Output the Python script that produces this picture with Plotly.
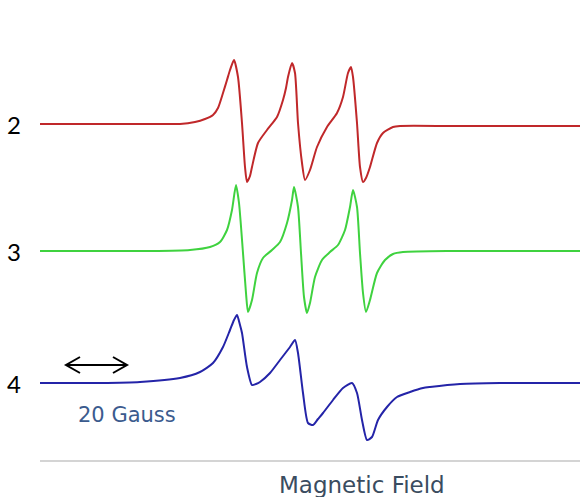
import plotly.graph_objects as go

# Field positions (arbitrary field units, left -> right) and derivative intensities
red_field = [40, 80, 120, 160, 180, 195, 205, 213, 218, 223, 227, 230, 234, 238, 242, 245, 247, 250, 252, 258,
             267, 277, 283, 286, 288, 292, 295, 298, 302, 305, 310, 317, 327, 337, 343, 348, 351, 353, 357, 360,
             363, 366, 370, 377, 383, 393, 400, 450, 500, 540, 580]
red_signal = [0, 0, 0, 0, 0, 2, 5, 9, 16, 31, 44, 54, 64, 47, 1, -43, -58, -52, -43, -19,
              -6, 7, 24, 36, 47, 61, 51, 1, -39, -56, -46, -23, -3, 11, 27, 51, 57, 47, 1, -43,
              -58, -54, -43, -19, -9, -3, -2, -2, -2, -2, -2]

green_field = [40, 100, 150, 190, 210, 220, 227, 232, 236, 239, 243, 246, 248, 252, 257, 263, 272, 280, 287, 292,
               294, 298, 301, 304, 307, 310, 315, 322, 330, 338, 345, 350, 353, 357, 360, 363, 366, 370, 377, 385,
               393, 403, 450, 500, 580]
green_signal = [0, 0, 0, 1, 4, 9, 21, 41, 66, 48, -2, -42, -61, -49, -22, -7, 1, 9, 28, 51,
                64, 44, -2, -46, -62, -52, -26, -9, -1, 6, 21, 44, 61, 44, -2, -42, -61, -49, -22, -9,
                -3, -1, 0, 0, 0]

blue_field = [40, 100, 140, 180, 200, 213, 223, 230, 234, 237, 240, 242, 247, 252, 256, 260, 270, 280, 290, 295,
              298, 303, 308, 313, 318, 323, 333, 343, 352, 357, 362, 367, 372, 378, 387, 397, 410, 423, 430, 460,
              500, 540, 580]
blue_signal = [0, 0, 1, 5, 11, 20, 36, 53, 63, 68, 58, 50, 16, -2, -1, 1, 10, 23, 36, 43,
               30, -10, -40, -42, -36, -30, -17, -5, 0, -10, -37, -57, -54, -37, -24, -14, -9, -5, -4, -1,
               0, 0, 0]

spectrum_labels = ["2", "3", "4"]
scale_label = "20 Gauss"
axis_title = "Magnetic Field"

# vertical baselines (screen offsets of the stacked spectra)
offsets = [124, 251, 383]
colors = ["#c0282a", "#3fd23f", "#2424a8"]

fig = go.Figure()
for fld, sig, off, col in zip([red_field, green_field, blue_field],
                              [red_signal, green_signal, blue_signal], offsets, colors):
    fig.add_trace(go.Scatter(x=fld, y=[off - s for s in sig], mode="lines",
                             line=dict(color=col, width=2, shape="spline", smoothing=0.6),
                             hoverinfo="skip", showlegend=False))

for lab, off in zip(spectrum_labels, offsets):
    fig.add_annotation(x=14, y=off, text=lab, showarrow=False, xanchor="center", yanchor="middle",
                       font=dict(family="Lato, Liberation Sans, sans-serif", size=24, color="#000000"))

# scale arrow (20 Gauss)
fig.add_shape(type="line", x0=66, x1=127, y0=365, y1=365, line=dict(color="#000000", width=2))
fig.add_shape(type="path", path="M 80 357 L 66 365 L 80 373", line=dict(color="#000000", width=2))
fig.add_shape(type="path", path="M 113 357 L 127 365 L 113 373", line=dict(color="#000000", width=2))
fig.add_annotation(x=127, y=415, text=scale_label, showarrow=False, xanchor="center", yanchor="middle",
                   font=dict(family="DejaVu Sans, sans-serif", size=21, color="#3b5b8e"))

# x axis line and title
fig.add_shape(type="line", x0=40, x1=580, y0=461, y1=461, line=dict(color="#d4d4d4", width=2))
fig.add_annotation(x=362, y=485, text=axis_title, showarrow=False, xanchor="center", yanchor="middle",
                   font=dict(family="DejaVu Sans, sans-serif", size=23, color="#3a4c60"))

fig.update_layout(
    width=580, height=497,
    margin=dict(l=0, r=0, t=0, b=0),
    paper_bgcolor="white", plot_bgcolor="white",
    xaxis=dict(range=[0, 580], visible=False, fixedrange=True),
    yaxis=dict(range=[497, 0], visible=False, fixedrange=True),
)

fig.write_html("out.html")
